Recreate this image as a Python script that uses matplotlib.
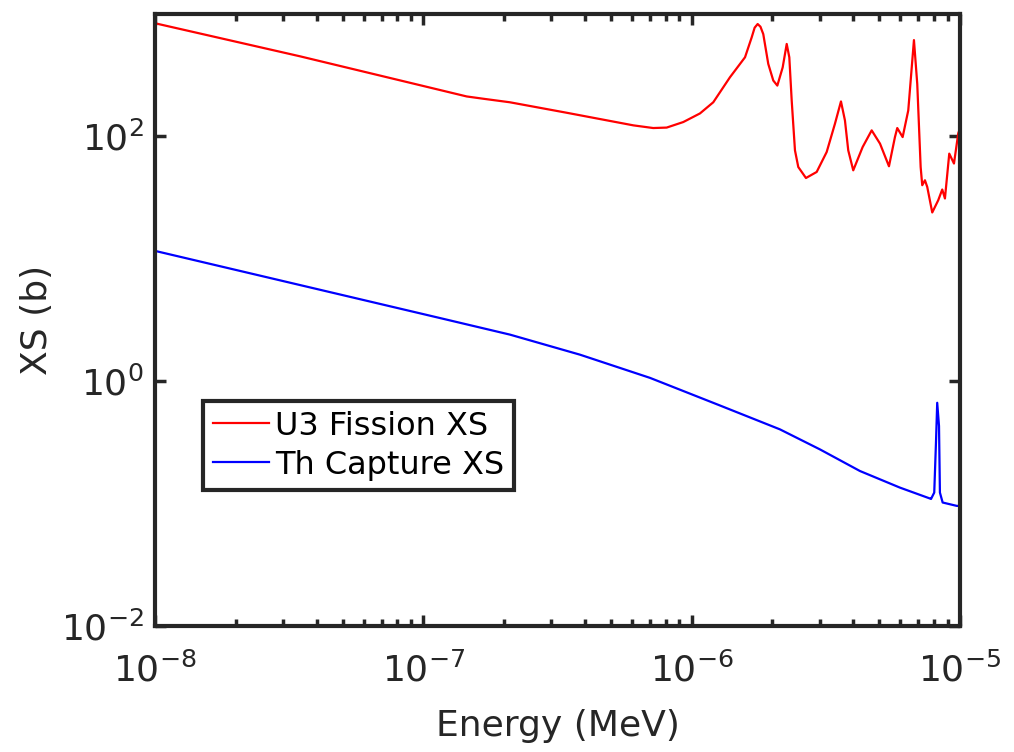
import numpy as np
import matplotlib
matplotlib.use('Agg')
import matplotlib.pyplot as plt
from matplotlib.ticker import LogLocator, NullLocator

# U-233 fission cross section (energy in MeV, xs in barns)
u3_energy = [1.0e-8, 3.47e-8, 1.0e-7, 1.45e-7, 1.673e-7, 2.10e-7, 3.42e-7, 6.07e-7,
             7.19e-7, 8.07e-7, 9.31e-7, 1.074e-6, 1.204e-6, 1.389e-6, 1.581e-6,
             1.674e-6, 1.717e-6, 1.762e-6, 1.805e-6, 1.849e-6, 1.930e-6, 2.015e-6,
             2.086e-6, 2.184e-6, 2.261e-6, 2.312e-6, 2.360e-6, 2.427e-6, 2.497e-6,
             2.667e-6, 2.924e-6, 3.186e-6, 3.421e-6, 3.602e-6, 3.727e-6, 3.834e-6,
             4.002e-6, 4.338e-6, 4.688e-6, 5.036e-6, 5.438e-6, 5.724e-6, 5.839e-6,
             6.115e-6, 6.417e-6, 6.738e-6, 6.932e-6, 7.137e-6, 7.235e-6, 7.405e-6,
             7.553e-6, 7.884e-6, 8.300e-6, 8.590e-6, 8.791e-6, 9.123e-6, 9.500e-6,
             9.856e-6, 1.0e-5]
u3_xs = [840, 451, 258, 212, 203, 190, 156, 123,
         117, 118, 131, 154, 190, 304, 443,
         644, 773, 828, 787, 685, 391, 286,
         260, 366, 569, 443, 196, 76.9, 56.2,
         45.7, 51.2, 74.5, 127, 193, 135, 76.9,
         52.8, 81.8, 112, 87.2, 57.0, 98.7, 117,
         98.7, 163, 612, 268, 56.2, 39.9, 43.8,
         38.6, 23.9, 30.1, 36.8, 31.1, 72.3, 60.0,
         106, 116]

# Th-232 capture cross section
th_energy = [1.0e-8, 1.153e-7, 2.104e-7, 3.836e-7, 6.995e-7, 1.275e-6, 2.133e-6,
             3.008e-6, 4.239e-6, 5.975e-6, 7.73e-6, 7.80e-6, 8.02e-6, 8.14e-6,
             8.227e-6, 8.355e-6, 8.42e-6, 8.62e-6, 9.72e-6, 1.0e-5]
th_xs = [11.6, 3.28, 2.40, 1.646, 1.064, 0.633, 0.404,
         0.277, 0.1845, 0.135, 0.110, 0.109, 0.123, 0.315,
         0.666, 0.43, 0.123, 0.102, 0.0958, 0.0955]

dark = '#262626'
plt.rcParams['font.family'] = 'DejaVu Sans'

fig = plt.figure(figsize=(10.14, 7.52), dpi=100)
ax = fig.add_axes([0.1529, 0.1676, 0.7938, 0.8138])

ax.loglog(u3_energy, u3_xs, color='#ff0000', lw=1.6, label='U3 Fission XS')
ax.loglog(th_energy, th_xs, color='#0000ff', lw=1.6, label='Th Capture XS')

ax.set_xlim(1e-8, 1e-5)
ax.set_ylim(1e-2, 1e3)
ax.set_yticks([1e-2, 1e0, 1e2])
ax.yaxis.set_minor_locator(NullLocator())
ax.xaxis.set_major_locator(LogLocator(base=10, numticks=10))
ax.xaxis.set_minor_locator(LogLocator(base=10, subs=np.arange(2, 10), numticks=20))

ax.tick_params(which='both', direction='in', top=True, right=True,
               colors=dark, labelcolor=dark, labelsize=26, width=2.5)
ax.tick_params(which='major', length=8)
ax.tick_params(which='minor', length=5)
ax.tick_params(axis='x', which='major', pad=19)
ax.tick_params(axis='y', which='major', pad=8)
for s in ax.spines.values():
    s.set_linewidth(3)
    s.set_color(dark)

ax.set_xlabel('Energy (MeV)', fontsize=26, color=dark, labelpad=15)
ax.set_ylabel('XS (b)', fontsize=26, color=dark, labelpad=5)

leg = ax.legend(loc='lower left', bbox_to_anchor=(0.06, 0.222), borderaxespad=0,
                fontsize=23, fancybox=False, handlelength=1.75, handletextpad=0.2,
                labelspacing=0.25, borderpad=0.3, framealpha=1)
leg.get_frame().set_edgecolor(dark)
leg.get_frame().set_linewidth(3)

fig.savefig('out.png', dpi=100)
